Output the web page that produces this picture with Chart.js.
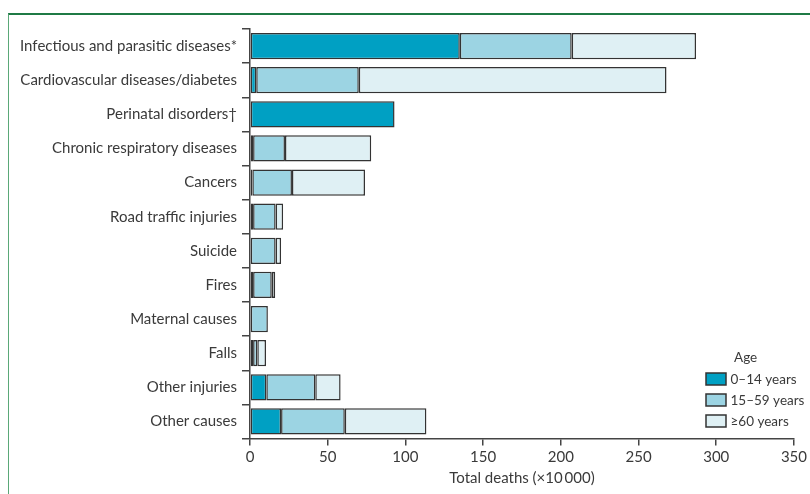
<!DOCTYPE html>
<html>
<head>
<meta charset="utf-8">
<script src="https://cdn.jsdelivr.net/npm/chart.js@4/dist/chart.umd.min.js"></script>
<style>
  html, body { margin: 0; padding: 0; background: #ffffff; }
  #wrap { position: relative; width: 810px; height: 494px; overflow: hidden; }
  #frame { position: absolute; left: 8px; top: 13px; width: 900px; height: 600px;
           border-top: 2px solid #1f7a45; border-left: 1.5px solid #5aa878; }
  #c { position: absolute; left: 0; top: 0; }
</style>
</head>
<body>
<div id="wrap">
  <div id="frame"></div>
  <canvas id="c" width="810" height="494"></canvas>
</div>
<script>
// Causes of death, in deaths ×10 000, split by age group
const categories = [
  'Infectious and parasitic diseases*',
  'Cardiovascular diseases/diabetes',
  'Perinatal disorders\u2020',
  'Chronic respiratory diseases',
  'Cancers',
  'Road traffic injuries',
  'Suicide',
  'Fires',
  'Maternal causes',
  'Falls',
  'Other injuries',
  'Other causes'
];
const ageGroups = ['0\u201314 years', '15\u201359 years', '\u226560 years'];
const deaths0to14  = [135, 4, 93, 2, 1.5, 2, 0, 2, 0, 2, 10.5, 20];
const deaths15to59 = [72, 66, 0, 20.5, 25.5, 14.5, 16.5, 12, 11.5, 2.7, 31.5, 41];
const deaths60plus = [80, 198, 0, 55.5, 47, 4.8, 3.5, 2.2, 0, 5.6, 16.3, 52.5];
const xTicks = [0, 50, 100, 150, 200, 250, 300, 350];

const fills = ['#00a0c3', '#9cd4e3', '#dff0f4'];
const edge = '#333333';
const ink = '#3a3a3a';
const FONT = 'Lato';

const seriesValues = [deaths0to14, deaths15to59, deaths60plus];
const datasets = ageGroups.map((g, i) => ({
  label: g,
  data: seriesValues[i].map(v => (v > 0 ? v : null)),
  backgroundColor: fills[i],
  borderColor: edge,
  borderWidth: 1.5,
  borderSkipped: false,
  categoryPercentage: 1,
  barPercentage: 0.77
}));

// Legend drawn inside the plot, lower right
const ageLegend = {
  id: 'ageLegend',
  afterDraw(chart) {
    const ctx = chart.ctx;
    ctx.save();
    ctx.font = '13.5px ' + FONT;
    ctx.fillStyle = ink;
    ctx.textBaseline = 'middle';
    ctx.textAlign = 'left';
    ctx.fillText('Age', 734, 358);
    const rows = [379, 400, 421];
    chart.data.datasets.forEach((ds, i) => {
      const y = rows[i];
      ctx.fillStyle = ds.backgroundColor;
      ctx.fillRect(706, y - 6, 20, 12);
      ctx.strokeStyle = edge;
      ctx.lineWidth = 1.5;
      ctx.strokeRect(706, y - 6, 20, 12);
      ctx.fillStyle = ink;
      ctx.fillText(ds.label, 730.5, y + 0.5);
    });
    ctx.restore();
  }
};

new Chart(document.getElementById('c'), {
  type: 'bar',
  data: { labels: categories, datasets },
  options: {
    indexAxis: 'y',
    responsive: false,
    animation: false,
    devicePixelRatio: 1,
    layout: { padding: { top: 29, right: 16, left: 0, bottom: 0 } },
    plugins: { legend: { display: false }, tooltip: { enabled: false } },
    scales: {
      x: {
        stacked: true,
        min: 0,
        max: 350,
        afterBuildTicks(scale) { scale.ticks = xTicks.map(v => ({ value: v })); },
        afterFit(scale) { scale.height = 55.5; },
        grid: { drawOnChartArea: false, drawTicks: true, tickLength: 7, color: '#444', lineWidth: 1.5 },
        border: { color: '#444', width: 1.5 },
        ticks: { color: ink, font: { family: FONT, size: 15 }, padding: 3 },
        title: { display: true, text: 'Total deaths (\u00d710\u2009000)', color: ink,
                 font: { family: FONT, size: 15 }, padding: { top: 2, bottom: 7 } }
      },
      y: {
        stacked: true,
        afterFit(scale) { scale.width = 250; },
        grid: { offset: true, drawOnChartArea: false, drawTicks: true, tickLength: 8, color: '#444', lineWidth: 1.5 },
        border: { color: '#444', width: 1.5 },
        ticks: { color: ink, font: { family: FONT, size: 15 }, padding: 5 }
      }
    }
  },
  plugins: [ageLegend]
});
</script>
</body>
</html>
